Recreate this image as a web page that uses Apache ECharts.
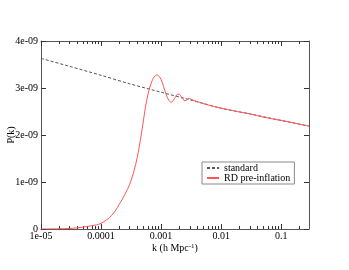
<!DOCTYPE html>
<html>
<head>
<meta charset="utf-8">
<script src="https://cdn.jsdelivr.net/npm/echarts@6/dist/echarts.min.js"></script>
<style>html,body{margin:0;padding:0;background:#fff}#c{width:349px;height:270px}</style>
</head>
<body>
<div id="c"></div>
<script>
// k in h/Mpc ; P(k) in units of 1e-9
const standardK = [1e-5, 3e-5, 1e-4, 3e-4, 1e-3, 3e-3, 1e-2, 3e-2, 1e-1, 0.29];
const standardP = [3.63, 3.46, 3.27, 3.09, 2.91, 2.75, 2.57, 2.45, 2.31, 2.19];

const rdK = [1e-5, 2e-5, 3e-5, 4e-5, 5e-5, 7e-5, 1e-4, 1.5e-4, 2e-4, 2.5e-4, 3e-4, 3.5e-4, 4e-4, 4.5e-4,
  5e-4, 5.5e-4, 6e-4, 6.5e-4, 7e-4, 7.5e-4, 8e-4, 8.6e-4, 9.2e-4, 1e-3, 1.1e-3, 1.2e-3, 1.3e-3, 1.4e-3,
  1.5e-3, 1.6e-3, 1.75e-3, 1.9e-3, 2.0e-3, 2.15e-3, 2.3e-3, 2.5e-3, 2.7e-3, 2.9e-3, 3.1e-3, 3.4e-3,
  3.8e-3, 4.5e-3, 6e-3, 1e-2, 2e-2, 3e-2, 5e-2, 0.1, 0.2, 0.29];
const rdP = [0, 0.004, 0.012, 0.025, 0.04, 0.07, 0.12, 0.29, 0.52, 0.74, 0.95, 1.22, 1.52, 1.88,
  2.25, 2.6, 2.85, 3.02, 3.14, 3.22, 3.26, 3.28, 3.25, 3.18, 3.03, 2.88, 2.77, 2.71,
  2.70, 2.74, 2.82, 2.87, 2.87, 2.82, 2.76, 2.73, 2.75, 2.78, 2.77, 2.74,
  2.72, 2.69, 2.64, 2.57, 2.49, 2.45, 2.38, 2.31, 2.23, 2.19];

const xTickValues = [1e-5, 1e-4, 1e-3, 1e-2, 0.1];
const xTickLabels = ['1e-05', '0.0001', '0.001', '0.01', '0.1'];
const yTickLabels = ['0', '1e-09', '2e-09', '3e-09', '4e-09'];

const xMinor = [];
for (let d = -5; d <= -1; d++) {
  for (let m = 2; m <= 9; m++) {
    const v = m * Math.pow(10, d);
    if (v < 0.29) xMinor.push(v);
  }
}

const axisColor = '#555';
const tickColor = '#333';
const font = 'Liberation Serif, Times New Roman, serif';
const xMin = 1e-5, xMax = 0.29;

function xAx(pos, ticks, len, showLine, labels) {
  return {
    type: 'log', logBase: 10, min: xMin, max: xMax, position: pos,
    axisLine: { show: showLine, lineStyle: { color: axisColor, width: 1 } },
    axisTick: { show: true, inside: true, length: len, customValues: ticks, lineStyle: { color: tickColor, width: 1 } },
    axisLabel: labels ? {
      show: true, customValues: xTickValues, margin: 2, color: '#000', fontFamily: font, fontSize: 10,
      formatter: function (v) {
        let best = 0;
        for (let i = 0; i < xTickValues.length; i++) {
          if (Math.abs(Math.log10(v) - Math.log10(xTickValues[i])) < Math.abs(Math.log10(v) - Math.log10(xTickValues[best]))) best = i;
        }
        return xTickLabels[best];
      }
    } : { show: false },
    splitLine: { show: false },
    minorTick: { show: false },
    minorSplitLine: { show: false }
  };
}

const xAxes = [
  Object.assign(xAx('bottom', xTickValues, 5, true, true), {
    name: 'k (h Mpc{sup|-1})', nameLocation: 'middle', nameGap: 14, nameMoveOverlap: false,
    nameTextStyle: {
      color: '#000', fontFamily: font, fontSize: 10,
      rich: { sup: { fontSize: 7, fontFamily: font, color: '#000', verticalAlign: 'top', padding: [0, 0, 4, 0] } }
    }
  }),
  xAx('bottom', xMinor, 3, false, false),
  xAx('top', xTickValues, 5, true, false),
  xAx('top', xMinor, 3, false, false)
];

function yAx(pos, labels) {
  return {
    type: 'value', min: 0, max: 4, interval: 1, position: pos,
    axisLine: { show: true, lineStyle: { color: axisColor, width: 1 } },
    axisTick: { show: true, inside: true, length: 5, lineStyle: { color: tickColor, width: 1 } },
    axisLabel: labels ? {
      show: true, margin: 3, color: '#000', fontFamily: font, fontSize: 10,
      formatter: function (v, i) { return yTickLabels[Math.round(v)]; }
    } : { show: false },
    splitLine: { show: false }
  };
}

const yAxes = [
  Object.assign(yAx('left', true), {
    name: 'P(k)', nameLocation: 'middle', nameGap: 25, nameMoveOverlap: false,
    nameTextStyle: { color: '#000', fontFamily: font, fontSize: 10 }
  }),
  yAx('right', false)
];

const chart = echarts.init(document.getElementById('c'), null, { renderer: 'canvas' });
chart.setOption({
  animation: false,
  backgroundColor: '#fff',
  grid: { left: 41, top: 41, right: 40, bottom: 41, containLabel: false, outerBoundsMode: 'none' },
  xAxis: xAxes,
  yAxis: yAxes,
  legend: {
    orient: 'vertical', left: 202, top: 162,
    padding: [1, 4], itemGap: 0, itemWidth: 12, itemHeight: 8,
    borderColor: '#888', borderWidth: 1, backgroundColor: '#fff', borderRadius: 0,
    itemStyle: { color: 'rgba(0,0,0,0)', borderWidth: 0, opacity: 0 },
    textStyle: { fontFamily: font, fontSize: 10, color: '#000', lineHeight: 10 },
    data: ['standard', 'RD pre-inflation']
  },
  series: [
    {
      name: 'standard', type: 'line', xAxisIndex: 0, yAxisIndex: 0,
      data: standardK.map((k, i) => [k, standardP[i]]),
      symbol: 'none', smooth: 0.3,
      lineStyle: { color: '#555', width: 1, type: [3, 2] },
      itemStyle: { color: '#555' }, z: 2
    },
    {
      name: 'RD pre-inflation', type: 'line', xAxisIndex: 0, yAxisIndex: 0,
      data: rdK.map((k, i) => [k, rdP[i]]),
      symbol: 'none', smooth: 0.35,
      lineStyle: { color: '#ff5555', width: 1 },
      itemStyle: { color: '#ff5555' }, z: 3
    }
  ]
});
</script>
</body>
</html>
